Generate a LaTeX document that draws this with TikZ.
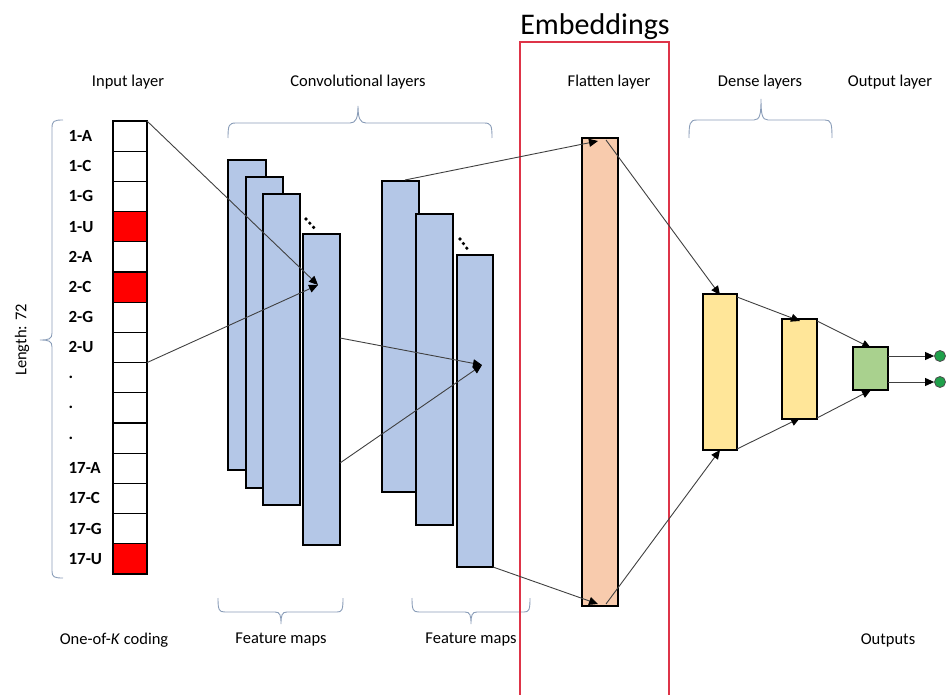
\documentclass[tikz,border=0pt]{standalone}
\usepackage{fontspec}
\setmainfont{Carlito}
\usetikzlibrary{arrows.meta}
\definecolor{fmblue}{HTML}{B4C7E7}
\definecolor{flpeach}{HTML}{F8CBAD}
\definecolor{dnyellow}{HTML}{FFE699}
\definecolor{outgreen}{HTML}{A9D18E}
\definecolor{dotgreen}{HTML}{1FA04A}
\definecolor{bracecol}{HTML}{8A9DB8}
\definecolor{embred}{RGB}{222,52,72}
\begin{document}
\begin{tikzpicture}[x=1pt,y=-1pt,
  box/.style={draw=black,line width=1.1pt,inner sep=0pt,outer sep=0pt,anchor=north west},
  cell/.style={box,fill=white,minimum width=34pt,minimum height=30.2pt},
  redcell/.style={cell,fill=red},
  fmap/.style={box,fill=fmblue},
  brace/.style={draw=bracecol,line width=0.9pt},
  conn/.style={draw=black!75,line width=0.9pt,-{Triangle[length=9pt,width=8pt,color=black]}},
  lbl/.style={font=\fontsize{16.5}{19}\selectfont},
  rowlbl/.style={font=\bfseries\fontsize{17}{19}\selectfont,anchor=west}]
\useasboundingbox (0,0) rectangle (947,695);
% titles
\node[lbl] (t1) at (128,82) {Input layer};
\node[lbl] (t2) at (358,82) {Convolutional layers};
\node[lbl] (t3) at (609,82) {Flatten layer};
\node[lbl] (t4) at (760,82) {Dense layers};
\node[lbl] (t5) at (890,82) {Output layer};
\node[font=\fontsize{30}{34}\selectfont] (emb) at (595,27) {Embeddings};
% input column
\foreach \i/\s in {1/cell,2/cell,3/cell,4/redcell,5/cell,6/redcell,7/cell,8/cell,9/cell,10/cell,11/cell,12/cell,13/cell,14/cell,15/redcell}{
  \node[\s] (in\i) at (113,{121+(\i-1)*30.2}) {};
}
\foreach \i/\t in {1/1-A,2/1-C,3/1-G,4/1-U,5/2-A,6/2-C,7/2-G,8/2-U,9/.,10/.,11/.,12/17-A,13/17-C,14/17-G,15/17-U}{
  \node[rowlbl] (r\i) at (65,{136+(\i-1)*30.2}) {\t};
}
% left bracket
\draw[brace] (63,120) .. controls (54,120) and (52,121) .. (52,128) -- (52,333)
  .. controls (52,339) and (49,340) .. (40,340) .. controls (49,340) and (52,341) .. (52,347)
  -- (52,571) .. controls (52,577) and (54,578) .. (63,578);
\node[lbl,rotate=90] (len) at (22,340) {Length: 72};
% feature maps group 1
\node[fmap,minimum width=38pt,minimum height=310pt] (c1) at (228,160) {};
\node[fmap,minimum width=37pt,minimum height=311pt] (c2) at (246,177) {};
\node[fmap,minimum width=37pt,minimum height=311pt] (c3) at (263,194) {};
\node[fmap,minimum width=37pt,minimum height=311pt] (c4) at (303,234) {};
% feature maps group 2
\node[fmap,minimum width=37pt,minimum height=311pt] (c5) at (382,181) {};
\node[fmap,minimum width=37pt,minimum height=311pt] (c6) at (416,214) {};
\node[fmap,minimum width=36pt,minimum height=312pt] (c7) at (457,255) {};
% ellipsis dots
\foreach \k in {0,1,2}{
  \fill (306+\k*3.8,219+\k*4.2) circle (1.8pt);
  \fill (460+\k*3.4,239+\k*4.6) circle (1.8pt);
}
% conv brace
\draw[brace] (228,138) .. controls (228,125) and (229,123) .. (236,123) -- (350,123)
  .. controls (356,123) and (358,118) .. (358,106) .. controls (358,118) and (360,123) .. (366,123)
  -- (484,123) .. controls (491,123) and (492,125) .. (492,138);
% bottom braces
\draw[brace] (218,598) .. controls (218,610) and (219,612) .. (225,612) -- (275,612)
  .. controls (280,612) and (281,615) .. (281,624) .. controls (281,615) and (282,612) .. (287,612)
  -- (337,612) .. controls (342,612) and (343,610) .. (343,598);
\draw[brace] (412,598) .. controls (412,610) and (413,612) .. (419,612) -- (465,612)
  .. controls (470,612) and (471,615) .. (471,624) .. controls (471,615) and (472,612) .. (477,612)
  -- (524,612) .. controls (529,612) and (530,610) .. (530,598);
% flatten
\node[box,fill=flpeach,minimum width=36pt,minimum height=468pt] (fl) at (582,138) {};
% dense brace
\draw[brace] (689,138) .. controls (689,123) and (690,120) .. (697,120) -- (754,120)
  .. controls (760,120) and (761,114) .. (761,99) .. controls (761,114) and (762,120) .. (768,120)
  -- (825,120) .. controls (831,120) and (832,123) .. (832,138);
% dense layers
\node[box,fill=dnyellow,minimum width=34pt,minimum height=156pt] (d1) at (703,294) {};
\node[box,fill=dnyellow,minimum width=35pt,minimum height=100pt] (d2) at (782,319) {};
\node[box,fill=outgreen,minimum width=35pt,minimum height=43pt] (o1) at (853,347) {};
\node[circle,draw=black!70,fill=dotgreen,minimum size=11pt,inner sep=0pt,line width=0.8pt] (g1) at (940,356) {};
\node[circle,draw=black!70,fill=dotgreen,minimum size=11pt,inner sep=0pt,line width=0.8pt] (g2) at (940,382) {};
% embeddings box
\draw[embred,line width=1.2pt] (520,42) rectangle (669,700);
% bottom labels
\node[lbl] (b1) at (114,640) {One-of-\textit{K} coding};
\node[lbl] (b2) at (281,640) {Feature maps};
\node[lbl] (b3) at (471,640) {Feature maps};
\node[lbl] (b4) at (888,640) {Outputs};
% connector coordinates
\coordinate (p1) at (318,285);
\coordinate (p2) at (482,365);
\coordinate (s4a) at (340,338);
\coordinate (s4b) at (340,463);
\coordinate (s5) at (405,180);
\coordinate (flt) at (598,141);
\coordinate (flb) at (598,604);
\coordinate (flts) at (606,140);
\coordinate (flbs) at (606,604);
\coordinate (d1t) at (720,295);
\coordinate (d1b) at (720,450);
\coordinate (d1tr) at (737,297);
\coordinate (d1br) at (737,449);
\coordinate (d2t) at (800,321);
\coordinate (d2b) at (800,418);
\coordinate (d2tr) at (817,321);
\coordinate (d2br) at (817,418);
\coordinate (o1t) at (871,348);
\coordinate (o1b) at (871,390);
\coordinate (o1r1) at (888,356);
\coordinate (o1r2) at (888,382);
% connectors
\draw[conn] (in1.north east) -- (p1);
\draw[conn] (in8.south east) -- (p1);
\draw[conn] (s4a) -- (p2);
\draw[conn] (s4b) -- (p2);
\draw[conn] (s5) -- (flt);
\draw[conn] (c7.south east) -- (flb);
\draw[conn] (flts) -- (d1t);
\draw[conn] (flbs) -- (d1b);
\draw[conn] (d1tr) -- (d2t);
\draw[conn] (d1br) -- (d2b);
\draw[conn] (d2tr) -- (o1t);
\draw[conn] (d2br) -- (o1b);
\draw[conn] (o1r1) -- (g1.west);
\draw[conn] (o1r2) -- (g2.west);
\end{tikzpicture}
\end{document}
